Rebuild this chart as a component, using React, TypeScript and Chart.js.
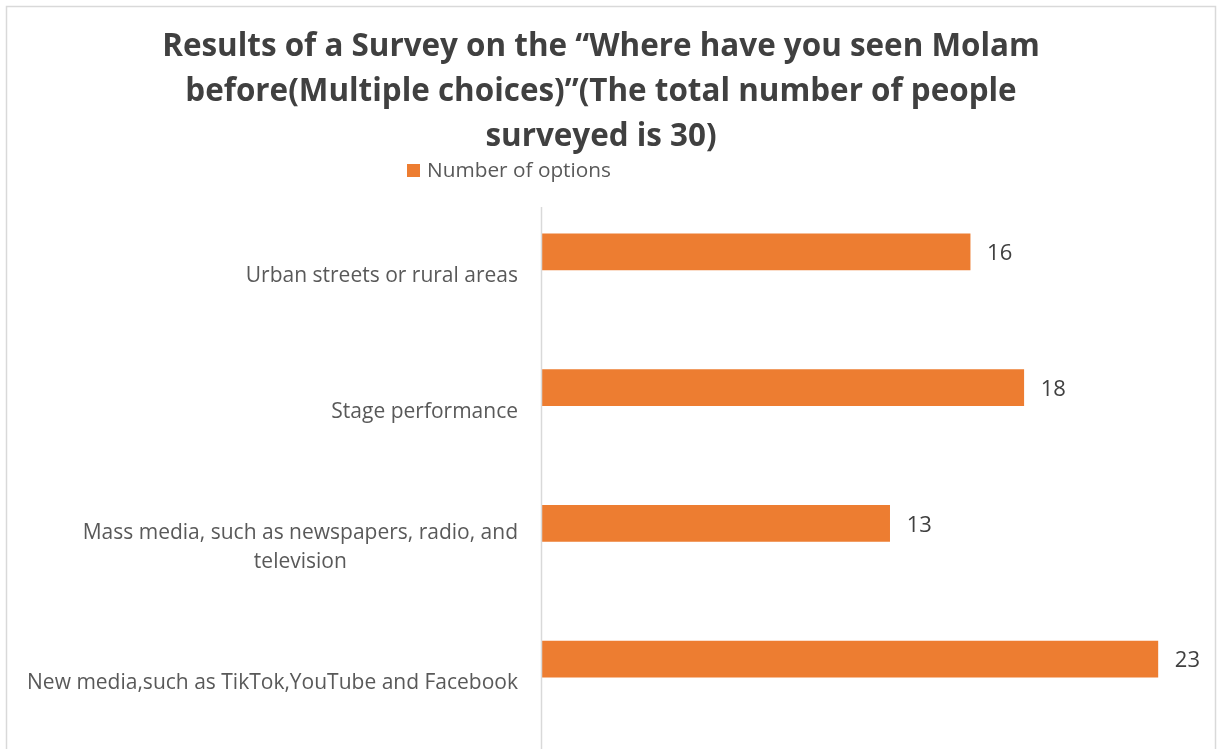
import React, { useEffect, useRef } from "react";
import { Chart, registerables } from "chart.js";

Chart.register(...registerables);

const titleLines = [
  "Results of a Survey on the “Where have you seen Molam",
  "before(Multiple choices)”(The total number of people",
  "surveyed is 30)",
];
const seriesName = "Number of options";
const categories = [
  ["Urban streets or rural areas"],
  ["Stage performance"],
  ["Mass media, such as newspapers, radio, and", "television"],
  ["New media,such as TikTok,YouTube and Facebook"],
];
const values = [16, 18, 13, 23];

const FONT = "'Open Sans'";
const BAR_COLOR = "#ED7D31";

export default function App() {
  const canvasRef = useRef<HTMLCanvasElement | null>(null);

  useEffect(() => {
    document.body.style.margin = "0";
    const canvas = canvasRef.current;
    if (!canvas) return;

    const decor = {
      id: "decor",
      afterDraw(chart: any) {
        const ctx = chart.ctx;
        const area = chart.chartArea;
        const yScale = chart.scales.y;
        ctx.save();
        // outer border
        ctx.strokeStyle = "#d9d9d9";
        ctx.lineWidth = 1.5;
        ctx.strokeRect(6.5, 6.5, 1209, 800);
        // title
        ctx.fillStyle = "#404040";
        ctx.font = `bold 31.4px ${FONT}`;
        ctx.textAlign = "center";
        ctx.textBaseline = "alphabetic";
        titleLines.forEach((t, i) => ctx.fillText(t, 601, 56 + i * 45));
        // legend
        ctx.fillStyle = BAR_COLOR;
        ctx.fillRect(407, 164, 13, 13);
        ctx.fillStyle = "#595959";
        ctx.font = `20.8px ${FONT}`;
        ctx.textAlign = "left";
        ctx.textBaseline = "middle";
        ctx.fillText(seriesName, 427, 171);
        // axis line
        ctx.strokeStyle = "#d9d9d9";
        ctx.lineWidth = 1.5;
        ctx.beginPath();
        ctx.moveTo(area.left + 0.5, 207);
        ctx.lineTo(area.left + 0.5, 749);
        ctx.stroke();
        // category labels (block right-aligned, lines centered)
        ctx.fillStyle = "#595959";
        ctx.font = `21px ${FONT}`;
        ctx.textAlign = "center";
        ctx.textBaseline = "middle";
        const rightX = area.left - 23;
        categories.forEach((lines, i) => {
          const cy = yScale.getPixelForValue(i) + 24;
          const blockW = Math.max(...lines.map((l) => ctx.measureText(l).width));
          const cx = rightX - blockW / 2;
          lines.forEach((l, j) => {
            ctx.fillText(l, cx, cy + (j - (lines.length - 1) / 2) * 29);
          });
        });
        // data labels
        const meta = chart.getDatasetMeta(0);
        ctx.fillStyle = "#404040";
        ctx.font = `22px ${FONT}`;
        ctx.textAlign = "left";
        ctx.textBaseline = "middle";
        meta.data.forEach((el: any, i: number) => {
          ctx.fillText(String(values[i]), el.x + 17, el.y + 2);
        });
        ctx.restore();
      },
    };

    const chart = new Chart(canvas, {
      type: "bar",
      data: {
        labels: categories,
        datasets: [
          {
            label: seriesName,
            data: values,
            backgroundColor: BAR_COLOR,
            borderWidth: 0,
            barThickness: 36,
          },
        ],
      },
      options: {
        indexAxis: "y",
        animation: false,
        responsive: true,
        maintainAspectRatio: false,
        layout: { padding: { top: 184, bottom: 22, left: 0, right: 8.5 } },
        plugins: {
          legend: { display: false },
          title: { display: false },
          tooltip: { enabled: false },
        },
        scales: {
          x: { type: "linear", min: 0, max: 25, display: false },
          y: {
            type: "category",
            offset: true,
            grid: { display: false, drawTicks: false },
            border: { display: false },
            ticks: { display: false },
            afterFit: (scale: any) => {
              scale.width = 541;
              scale.paddingTop = 0;
              scale.paddingBottom = 0;
            },
          },
        },
      },
      plugins: [decor],
    });

    return () => chart.destroy();
  }, []);

  return (
    <div style={{ width: 1220, height: 749, position: "relative", background: "#fff" }}>
      <canvas ref={canvasRef} />
    </div>
  );
}
